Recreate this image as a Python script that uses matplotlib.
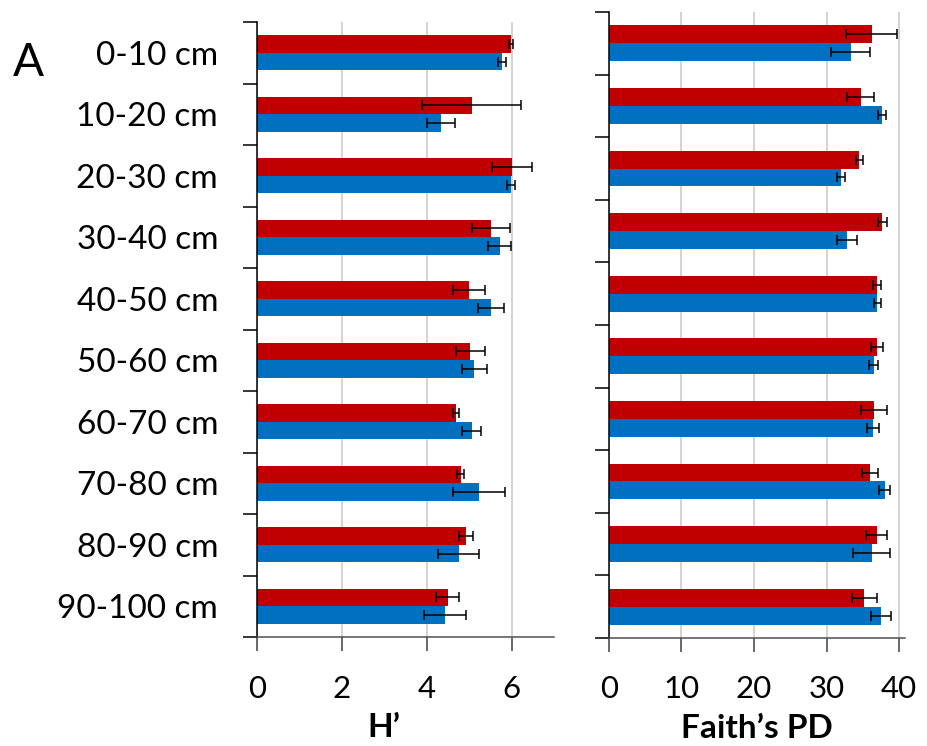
import matplotlib
matplotlib.use("Agg")
import matplotlib.pyplot as plt
import numpy as np

plt.rcParams["font.family"] = ["Lato", "DejaVu Sans"]

depths = ["0-10 cm", "10-20 cm", "20-30 cm", "30-40 cm", "40-50 cm",
          "50-60 cm", "60-70 cm", "70-80 cm", "80-90 cm", "90-100 cm"]

# Shannon diversity (H')
h_red = [5.98, 5.06, 6.01, 5.51, 5.00, 5.03, 4.69, 4.80, 4.92, 4.49]
h_red_err = [0.05, 1.16, 0.46, 0.45, 0.38, 0.35, 0.07, 0.09, 0.16, 0.26]
h_blue = [5.78, 4.34, 5.98, 5.72, 5.51, 5.12, 5.06, 5.23, 4.75, 4.43]
h_blue_err = [0.09, 0.33, 0.09, 0.27, 0.30, 0.29, 0.22, 0.62, 0.48, 0.49]

# Faith's phylogenetic diversity
pd_red = [36.2, 34.7, 34.5, 37.7, 37.0, 36.9, 36.5, 36.0, 36.9, 35.2]
pd_red_err = [3.5, 1.85, 0.5, 0.6, 0.55, 0.85, 1.8, 1.15, 1.45, 1.75]
pd_blue = [33.3, 37.7, 32.0, 32.8, 37.0, 36.5, 36.4, 38.0, 36.2, 37.5]
pd_blue_err = [2.7, 0.55, 0.6, 1.4, 0.45, 0.65, 0.8, 0.75, 2.6, 1.4]

RED = "#C00000"
BLUE = "#0070C0"
BAR_H = 0.285

fig = plt.figure(figsize=(9.28, 7.46), dpi=100)
ax1 = fig.add_axes([257 / 928, 1 - 637 / 746, 297 / 928, 615 / 746])
ax2 = fig.add_axes([608.7 / 928, 1 - 638 / 746, 296.3 / 928, 626 / 746])


def draw(ax, red, red_err, blue, blue_err, xmax, xticks, xlabel, show_labels):
    y = np.arange(len(depths))
    ekw = dict(ecolor="black", elinewidth=1.1, capsize=3.5, capthick=1.1)
    ax.barh(y - BAR_H / 2, red, height=BAR_H, color=RED,
            xerr=red_err, error_kw=ekw, zorder=2)
    ax.barh(y + BAR_H / 2, blue, height=BAR_H, color=BLUE,
            xerr=blue_err, error_kw=ekw, zorder=2)
    ax.set_ylim(len(depths) - 0.5, -0.5)
    ax.set_xlim(0, xmax)

    # category labels at centres, tick marks at the boundaries
    ax.set_yticks(y)
    ax.set_yticklabels(depths if show_labels else [])
    ax.set_yticks(np.arange(len(depths) + 1) - 0.5, minor=True)
    ax.tick_params(axis="y", which="major", length=0, pad=28, labelsize=24)
    ax.tick_params(axis="y", which="minor", length=10, width=1.1,
                   color="black", direction="out")

    ax.set_xticks(xticks)
    ax.tick_params(axis="x", length=10, width=1.1, color="#404040",
                   pad=17, labelsize=22.5)
    ax.grid(axis="x", color="#c8c8c8", linewidth=1.1, zorder=0)
    ax.set_axisbelow(True)

    for s in ["top", "right"]:
        ax.spines[s].set_visible(False)
    ax.spines["left"].set_color("black")
    ax.spines["left"].set_linewidth(1.1)
    ax.spines["bottom"].set_color("#505050")
    ax.spines["bottom"].set_linewidth(1.1)

    ax.set_xlabel(xlabel, fontsize=24, fontweight="bold", labelpad=2)


draw(ax1, h_red, h_red_err, h_blue, h_blue_err, 7, [0, 2, 4, 6], "H\u2019", True)
draw(ax2, pd_red, pd_red_err, pd_blue, pd_blue_err, 40.8, [0, 10, 20, 30, 40],
     "Faith\u2019s PD", False)
ax1.xaxis.set_label_coords(3 / 7, -0.123)
ax2.xaxis.set_label_coords(0.5, -0.121)

fig.text(28 / 928, 1 - 63 / 746, "A", fontsize=33, ha="center", va="center")

fig.savefig("out.png", dpi=100)
